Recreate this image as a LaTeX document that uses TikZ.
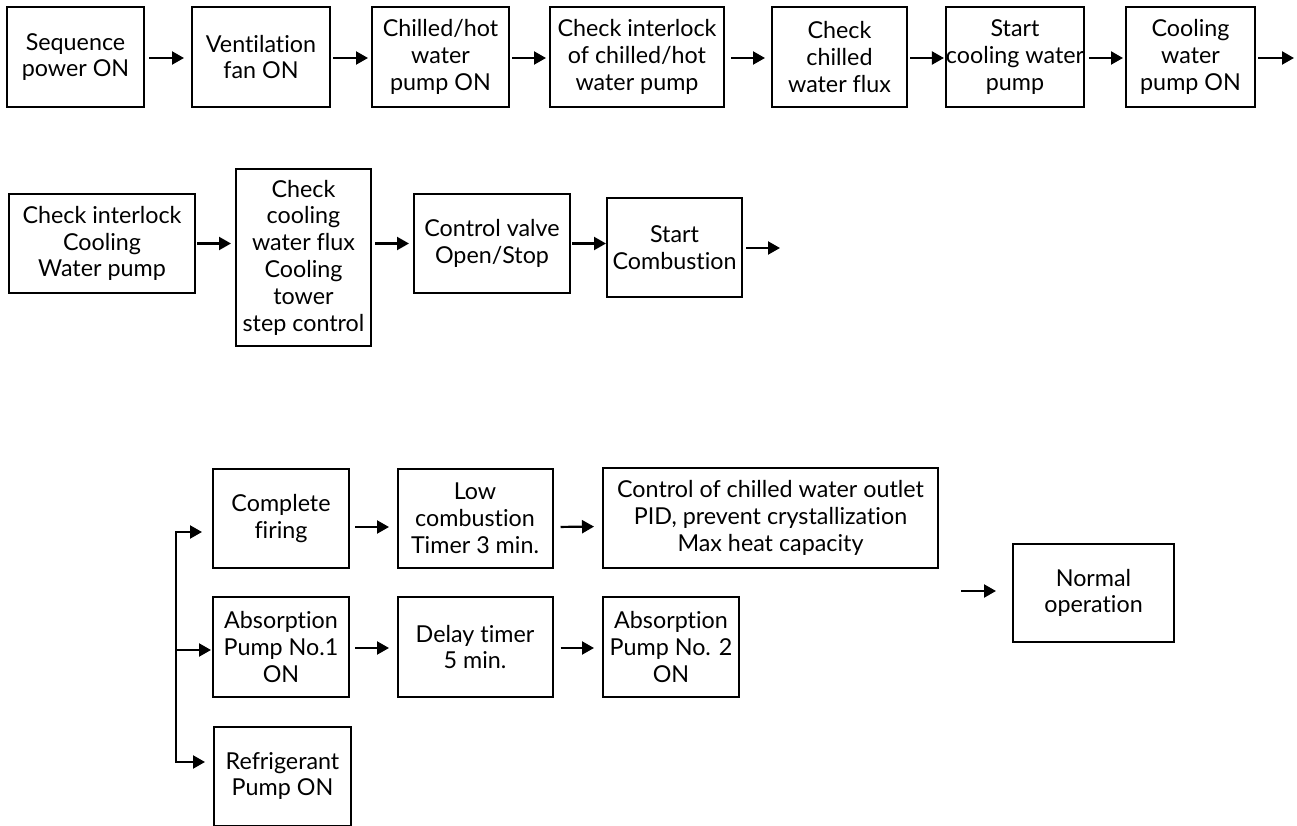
\documentclass[tikz,border=0pt]{standalone}
\usepackage{fontspec}
\setmainfont{Lato}[Ligatures={NoCommon}]
\usetikzlibrary{arrows.meta,calc}
\begin{document}
\begin{tikzpicture}[x=1pt,y=-1pt,
  box/.style={draw=black,line width=2pt,rectangle,inner sep=0pt,align=center,
    font=\fontsize{23.3}{26.8}\selectfont},
  arr/.style={line width=2.2pt,-{Triangle[length=12pt,width=13pt]}},
  ln/.style={line width=2.2pt}]
\useasboundingbox[fill=white] (0,0) rectangle (1297,826);
% top row
\node[box,minimum width=137pt,minimum height=100pt] (b1) at (75.5,57) {Sequence\\power ON};
\node[box,minimum width=138pt,minimum height=100pt] (b2) at (261,57) {Ventilation\\fan ON};
\node[box,minimum width=137pt,minimum height=100pt] (b3) at (440.5,57) {Chilled/hot\\water\\pump ON};
\node[box,minimum width=174pt,minimum height=100pt] (b4) at (637,57) {Check interlock\\of chilled/hot\\water pump};
\node[box,minimum width=135pt,minimum height=100pt] (b5) at (839.5,57) {Check\\chilled\\water flux};
\node[box,minimum width=136pt,minimum height=100pt] (b6) at (1015,57) {Start\\cooling water\\pump};
\node[box,minimum width=129pt,minimum height=100pt] (b7) at (1190.5,57) {Cooling\\water\\pump ON};
\coordinate (e1) at (1294,58);
\draw[arr,shorten <=4pt,shorten >=7pt] ([yshift=-1pt]b1.east) -- ([yshift=-1pt]b2.west);
\draw[arr,shorten <=2pt,shorten >=3pt] ([yshift=-1pt]b2.east) -- ([yshift=-1pt]b3.west);
\draw[arr,shorten <=2pt,shorten >=3pt] ([yshift=-1pt]b3.east) -- ([yshift=-1pt]b4.west);
\draw[arr,shorten <=6pt,shorten >=6pt] ([yshift=-1pt]b4.east) -- ([yshift=-1pt]b5.west);
\draw[arr,shorten <=2pt,shorten >=1pt] ([yshift=-1pt]b5.east) -- ([yshift=-1pt]b6.west);
\draw[arr,shorten <=4pt,shorten >=2pt] ([yshift=-1pt]b6.east) -- ([yshift=-1pt]b7.west);
\draw[arr,shorten <=2pt] (b7.east |- e1) -- (e1);
% second row
\node[box,minimum width=186pt,minimum height=99pt] (r1) at (102,243.5) {Check interlock\\Cooling\\Water pump};
\node[box,minimum width=135pt,minimum height=177pt] (r2) at (303.5,257.5) {Check\\cooling\\water flux\\Cooling\\tower\\step control};
\node[box,minimum width=156pt,minimum height=99pt] (r3) at (492,243.5) {Control valve\\Open/Stop};
\node[box,minimum width=135pt,minimum height=99pt] (r4) at (674.5,247.5) {Start\\Combustion};
\coordinate (e2) at (780,248);
\draw[arr,shorten <=1pt,shorten >=4pt] (r1.east) -- (r1.east -| r2.west);
\draw[arr,shorten <=3pt,shorten >=4pt] (r3.west -| r2.east) -- (r3.west);
\draw[arr,shorten <=1pt] (r3.east) -- (r3.east -| r4.west);
\draw[arr,shorten <=3pt] (r4.east |- e2) -- (e2);
% bottom section
\node[box,minimum width=136pt,minimum height=99pt] (cf) at (281,518.5) {Complete\\firing};
\node[box,minimum width=155pt,minimum height=99pt] (lc) at (475,518.5) {Low\\combustion\\Timer 3 min.};
\node[box,minimum width=335pt,minimum height=100pt] (cc) at (770.5,518) {Control of chilled water outlet\\PID, prevent crystallization\\Max heat capacity};
\node[box,minimum width=136pt,minimum height=100pt] (a1) at (281,647) {Absorption\\Pump No.1\\ON};
\node[box,minimum width=155pt,minimum height=100pt] (dt) at (475,647) {Delay timer\\5 min.};
\node[box,minimum width=136pt,minimum height=100pt] (a2) at (671,647) {Absorption\\Pump No. 2\\ON};
\node[box,minimum width=137pt,minimum height=99pt] (rp) at (282.5,776) {Refrigerant\\Pump ON};
\node[box,minimum width=161pt,minimum height=98pt] (no) at (1093.5,593) {Normal\\operation};
\draw[arr,shorten <=5pt,shorten >=7.5pt] ([yshift=-8.5pt]cf.east) -- ([yshift=-8.5pt]lc.west);
\draw[arr,shorten <=7pt,shorten >=8pt] ([yshift=-8.5pt]lc.east) -- ([yshift=-8.5pt]cc.west);
\draw[arr,shorten <=5pt,shorten >=7.5pt] ([yshift=-1pt]a1.east) -- ([yshift=-1pt]dt.west);
\draw[arr,shorten <=7pt,shorten >=8pt] ([yshift=-1pt]dt.east) -- ([yshift=-1pt]a2.west);
\coordinate (nin) at (961,591);
\draw[arr,shorten >=16pt] (nin) -- (nin -| no.west);
% branch
\coordinate (bt) at (176,532);
\coordinate (bm) at (176,650);
\coordinate (bb) at (176,762);
\draw[arr,shorten >=10pt] (bb) -- (bt) -- (bt -| cf.west);
\draw[arr,shorten >=1pt] (bm) -- (bm -| a1.west);
\draw[arr,shorten >=8pt] (bt) -- (bb) -- (bb -| rp.west);
\end{tikzpicture}
\end{document}
